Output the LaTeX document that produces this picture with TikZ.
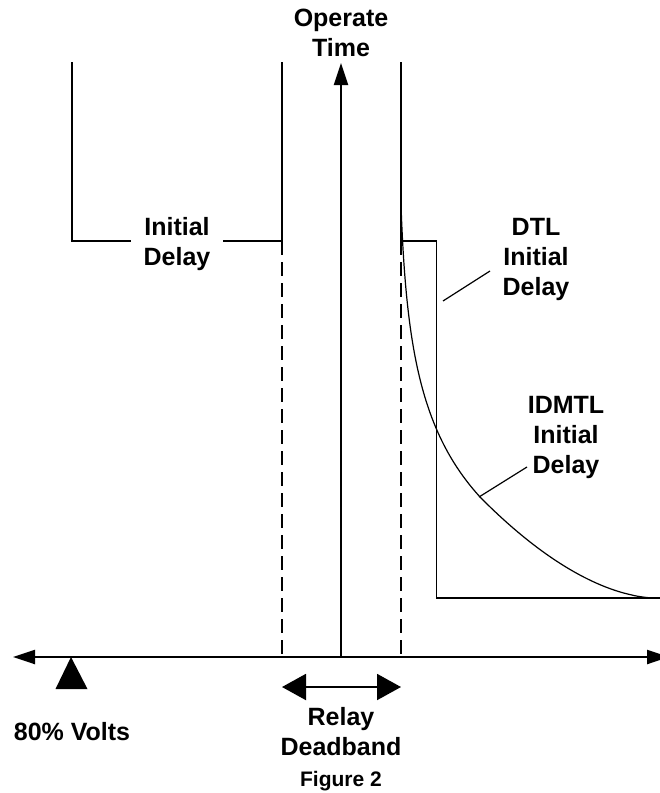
\documentclass[tikz,border=0pt]{standalone}
\usepackage{fontspec}
\setmainfont{Liberation Sans}
\usetikzlibrary{arrows.meta}

\begin{document}
\begin{tikzpicture}[x=1pt,y=-1pt,
    axtip/.tip={Triangle[length=22pt,width=14pt]},
    bandtip/.tip={Triangle[length=24pt,width=26pt]},
    axis/.style={line width=2.3pt},
    trace/.style={line width=1.2pt},
    guide/.style={line width=1.2pt,dash pattern=on 14pt off 7pt},
    lbl/.style={font=\bfseries\fontsize{25}{30}\selectfont,align=center,inner sep=0pt}]
          %\draw[help lines,step=50] (0,0) grid (660,793);
          \useasboundingbox (0,0) rectangle (660,793);
          \clip (0,0) rectangle (660,793);
          \draw[axis,axtip-axtip] (13,657) -- (669,657);
          \draw[axis,-axtip] (341,657) -- (341,63);
          \fill (71,657) -- (55.5,689) -- (87.5,689) -- cycle;
          \draw[guide] (282,241) -- (282,657);
          \draw[guide] (401,241) -- (401,657);
          \draw[trace] (72,62) -- (72,241) -- (131,241);
          \draw[trace] (223,241) -- (282,241) -- (282,62);
          \draw[trace] (401,62) -- (401,241) -- (436.5,241) -- (436.5,598)
          -- (660,598);
          % IDMTL curve: steep part, then flat tail
          \draw[trace] (401,62) -- plot[domain=205:497,samples=60,variable=\t]
          ({397.8+82.2*exp((\t-497)/90)},\t)
          -- plot[domain=480:654.5,samples=60,variable=\t]
          (\t,{598-101*((655-\t)/175)^1.75}) -- (660,598);
          \coordinate (dtlfoot) at (443,301);
          \coordinate (dtlhead) at (490,271);
          \coordinate (idmtlfoot) at (479,497);
          \coordinate (idmtlhead) at (527,467);
          \draw[trace] (dtlfoot) -- (dtlhead);
          \draw[trace] (idmtlfoot) -- (idmtlhead);
          \draw[line width=2pt,bandtip-bandtip] (282,687) -- (401,687);
          \node[lbl,anchor=north] (optime) at (341,9) {Operate\\Time};
          \node[lbl,anchor=north] (initdelay) at (177,217.5) {Initial\\Delay};
          \node[lbl,anchor=north] (dtl) at (536,218) {DTL\\Initial\\Delay};
          \node[lbl,anchor=north] (idmtl) at (566,396.5)
          {IDMTL\\Initial\\Delay};
          \node[lbl,anchor=base] (volts) at (72,740) {80\% Volts};
          \node[lbl,anchor=north] (band) at (341,707.5) {Relay\\Deadband};
          \node[lbl,anchor=base,font=\bfseries\fontsize{21}{25}\selectfont]
          (fig) at (341,786) {Figure 2};
        \end{tikzpicture}
\end{document}
